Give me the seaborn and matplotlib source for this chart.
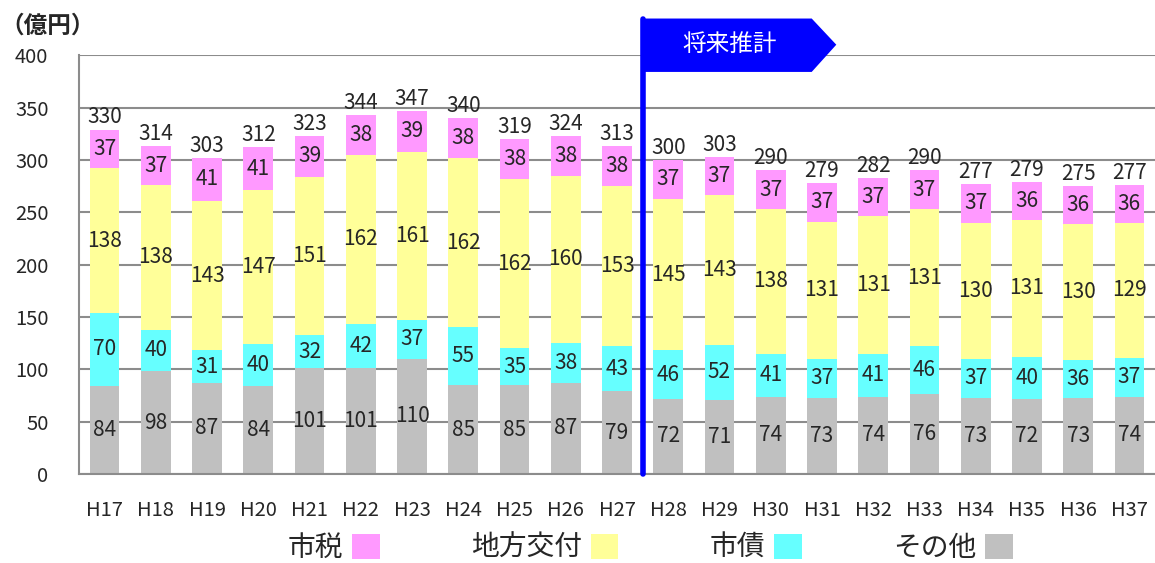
import numpy as np
import pandas as pd
import seaborn as sns
import matplotlib.pyplot as plt
from matplotlib.patches import Polygon, Patch

years = ["H17", "H18", "H19", "H20", "H21", "H22", "H23", "H24", "H25", "H26", "H27",
         "H28", "H29", "H30", "H31", "H32", "H33", "H34", "H35", "H36", "H37"]
sonota = [84, 98, 87, 84, 101, 101, 110, 85, 85, 87, 79, 72, 71, 74, 73, 74, 76, 73, 72, 73, 74]
shisai = [70, 40, 31, 40, 32, 42, 37, 55, 35, 38, 43, 46, 52, 41, 37, 41, 46, 37, 40, 36, 37]
chiho = [138, 138, 143, 147, 151, 162, 161, 162, 162, 160, 153, 145, 143, 138, 131, 131, 131, 130, 131, 130, 129]
shizei = [37, 37, 41, 41, 39, 38, 39, 38, 38, 38, 38, 37, 37, 37, 37, 37, 37, 37, 36, 36, 36]
totals = [330, 314, 303, 312, 323, 344, 347, 340, 319, 324, 313, 300, 303, 290, 279, 282, 290, 277, 279, 275, 277]

names = ["市税", "地方交付", "市債", "その他"]
colors = {"市税": "#FF99FF", "地方交付": "#FFFF99", "市債": "#66FFFF", "その他": "#C0C0C0"}

sns.set_style("white")
plt.rcParams['font.family'] = ['Noto Sans CJK JP', 'DejaVu Sans']

df = pd.DataFrame({"year": years, "その他": sonota, "市債": shisai, "地方交付": chiho, "市税": shizei})
# cumulative heights, bottom layer first
stack_order = ["その他", "市債", "地方交付", "市税"]
cum = df[stack_order].cumsum(axis=1)

fig = plt.figure(figsize=(11.55, 5.63), dpi=100)
ax = fig.add_axes([0.0684, 0.158, 0.9316, 0.744])

for col in reversed(stack_order):
    sns.barplot(x=df["year"], y=cum[col], color=colors[col], width=0.58,
                edgecolor="none", saturation=1, ax=ax, zorder=2)

# segment labels
for i in range(len(years)):
    base = 0
    for col in stack_order:
        v = df[col][i]
        ax.text(i, base + v / 2, str(v), ha="center", va="center", fontsize=15, zorder=4)
        base += v
    ax.text(i, base + 1, str(totals[i]), ha="center", va="bottom", fontsize=15, zorder=4)

ax.set_ylim(0, 400)
ax.set_xlim(-0.5, len(years) - 0.5)
ax.set_yticks(range(0, 401, 50))
ax.yaxis.grid(True, color="#8C8C8C", linewidth=1.5, zorder=0)
ax.set_axisbelow(True)
ax.set_xlabel("")
ax.set_ylabel("")
ax.tick_params(axis="both", length=0, labelsize=14.5)
ax.tick_params(axis="x", pad=19)
ax.tick_params(axis="y", pad=22)
for s in ["top", "right"]:
    ax.spines[s].set_visible(False)
for s in ["left", "bottom"]:
    ax.spines[s].set_color("#8C8C8C")
    ax.spines[s].set_linewidth(1.5)

# forecast marker
ax.plot([10.5, 10.5], [0, 435], color="#0000FF", linewidth=4, clip_on=False, zorder=5)
flag = Polygon([[10.5, 435], [13.8, 435], [14.28, 410], [13.8, 384], [10.5, 384]],
               closed=True, facecolor="#0000FF", edgecolor="none", clip_on=False, zorder=5)
ax.add_patch(flag)
ax.text(12.2, 410, "将来推計", color="white", fontsize=17, ha="center", va="center", zorder=6)

fig.text(0.0, 0.955, "（億円）", fontsize=17, fontweight="bold", ha="left", va="center")

handles = [Patch(facecolor=colors[n], edgecolor="none") for n in names]
fig.legend(handles, names, loc="center", bbox_to_anchor=(0.563, 0.027), ncol=4,
           frameon=False, markerfirst=False, fontsize=20, handlelength=1.0,
           handleheight=1.0, handletextpad=0.3, columnspacing=3.3)

fig.savefig("out.png", dpi=100)
